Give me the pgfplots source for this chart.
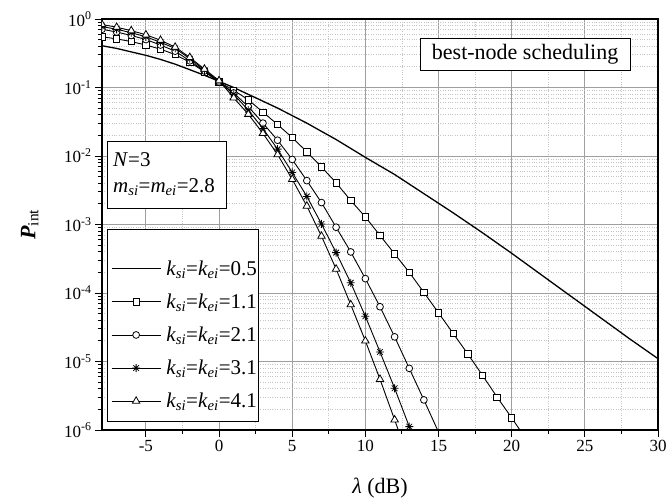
\documentclass[border=0pt]{standalone}
\usepackage{fontspec}
\setmainfont{Liberation Serif}
\usepackage{pgfplots}
\pgfplotsset{compat=1.18}
\usetikzlibrary{plotmarks}

% 8-armed asterisk like the original
\pgfdeclareplotmark{ast8}{%
  \pgfpathmoveto{\pgfqpoint{-\pgfplotmarksize}{0pt}}\pgfpathlineto{\pgfqpoint{\pgfplotmarksize}{0pt}}%
  \pgfpathmoveto{\pgfqpoint{0pt}{-\pgfplotmarksize}}\pgfpathlineto{\pgfqpoint{0pt}{\pgfplotmarksize}}%
  \pgfpathmoveto{\pgfqpoint{-0.707\pgfplotmarksize}{-0.707\pgfplotmarksize}}\pgfpathlineto{\pgfqpoint{0.707\pgfplotmarksize}{0.707\pgfplotmarksize}}%
  \pgfpathmoveto{\pgfqpoint{-0.707\pgfplotmarksize}{0.707\pgfplotmarksize}}\pgfpathlineto{\pgfqpoint{0.707\pgfplotmarksize}{-0.707\pgfplotmarksize}}%
  \pgfusepathqstroke}

\newcommand{\tickfont}{\fontsize{17}{20}\selectfont}
\newcommand{\bigfont}{\fontsize{21}{25}\selectfont}
\newcommand{\kk}[1]{\textit{k}\textsubscript{\textit{si}}=\textit{k}\textsubscript{\textit{ei}}=#1}

\begin{document}
\begin{tikzpicture}
\begin{axis}[
    scale only axis,
    width=556pt, height=411pt,
    ymode=log,
    xmin=-8, xmax=30,
    ymin=1e-6, ymax=1,
    xtick={-5,0,5,10,15,20,25,30},
    xticklabels={-5,0,5,10,15,20,25,30},
    minor x tick num=1,
    ytick={1e-6,1e-5,1e-4,1e-3,1e-2,1e-1,1},
    yticklabels={10\textsuperscript{-6},10\textsuperscript{-5},10\textsuperscript{-4},10\textsuperscript{-3},10\textsuperscript{-2},10\textsuperscript{-1},10\textsuperscript{0}},
    xtick pos=bottom, ytick pos=left,
    tick align=outside,
    major tick length=7pt, minor tick length=4pt,
    tick style={black, line width=0.9pt},
    axis line style={black, line width=1.5pt},
    grid=both,
    major grid style={gray!75, line width=0.8pt},
    minor grid style={gray!45, dotted, line width=0.8pt},
    ticklabel style={font=\tickfont},
    xlabel={\textit{λ} (dB)},
    ylabel={\textbf{\textit{P}}\textsubscript{int}},
    label style={font=\fontsize{22}{26}\selectfont},
    xlabel style={at={(axis description cs:0.5,-0.141)}, anchor=center},
    ylabel style={at={(axis description cs:-0.13,0.5)}, anchor=center},
    clip marker paths=true,
    legend style={at={(0.014,0.043)}, anchor=south west, draw=none, fill=none,
        font=\bigfont, row sep=13pt, column sep=3pt, inner sep=1pt},
    legend cell align=left,
    legend image code/.code={\draw[mark repeat=2,mark phase=2] plot coordinates {(0pt,0pt)(24.5pt,0pt)(49pt,0pt)};},
]
\addplot[black, line width=1.3pt, mark=none] coordinates {
    (-8,0.407) (-7,0.372) (-6,0.331) (-5,0.295) (-4,0.257) (-3,0.219) (-2,0.182) (-1,0.151)
    (0,0.123) (1,0.100) (2,0.0794) (3,0.0631) (4,0.0501) (5,0.0389) (6,0.0302) (7,0.0229)
    (8,0.0174) (9,0.0129) (10,0.00955) (12,0.00537) (14,0.00282) (16,0.00148) (18,7.59e-4)
    (20,3.80e-4) (22,1.86e-4) (24,9.12e-5) (26,4.47e-5) (28,2.19e-5) (30,1.10e-5)
};
\addlegendentry{\kk{0.5}}

\addplot[black, line width=0.9pt, mark=square*, mark size=3.2pt, mark options={fill=white, line width=0.8pt}] coordinates {
    (-8,0.550) (-7,0.513) (-6,0.468) (-5,0.417) (-4,0.363) (-3,0.302) (-2,0.234) (-1,0.170)
    (0,0.120) (1,0.0912) (2,0.0661) (3,0.0437) (4,0.0288) (5,0.0186) (6,0.0115) (7,6.92e-3)
    (8,4.07e-3) (9,2.24e-3) (10,1.29e-3) (11,6.92e-4) (12,3.72e-4) (13,2.00e-4) (14,1.02e-4)
    (15,5.13e-5) (16,2.57e-5) (17,1.29e-5) (18,6.31e-6) (19,3.02e-6) (20,1.51e-6) (21,7.24e-7)
};
\addlegendentry{\kk{1.1}}

\addplot[black, line width=0.9pt, mark=*, mark size=3.4pt, mark options={fill=white, line width=0.8pt}] coordinates {
    (-8,0.708) (-7,0.646) (-6,0.575) (-5,0.501) (-4,0.417) (-3,0.339) (-2,0.245) (-1,0.174)
    (0,0.120) (1,0.0832) (2,0.0525) (3,0.0302) (4,0.0170) (5,8.91e-3) (6,4.37e-3) (7,2.09e-3)
    (8,9.12e-4) (9,3.98e-4) (10,1.62e-4) (11,6.31e-5) (12,2.29e-5) (13,7.94e-6) (14,2.75e-6)
    (15,9.33e-7)
};
\addlegendentry{\kk{2.1}}

\addplot[black, line width=0.9pt, mark=ast8, mark size=4pt, mark options={line width=0.8pt}] coordinates {
    (-8,0.776) (-7,0.708) (-6,0.631) (-5,0.550) (-4,0.457) (-3,0.372) (-2,0.263) (-1,0.180)
    (0,0.123) (1,0.0794) (2,0.0468) (3,0.0251) (4,0.0126) (5,5.75e-3) (6,2.57e-3) (7,1.02e-3)
    (8,3.89e-4) (9,1.41e-4) (10,4.57e-5) (11,1.38e-5) (12,4.07e-6) (13,1.12e-6) (14,2.82e-7)
};
\addlegendentry{\kk{3.1}}

\addplot[black, line width=0.9pt, mark=triangle*, mark size=4.3pt, mark options={fill=white, line width=0.8pt}] coordinates {
    (-8,0.832) (-7,0.759) (-6,0.676) (-5,0.589) (-4,0.490) (-3,0.389) (-2,0.275) (-1,0.186)
    (0,0.126) (1,0.0708) (2,0.0407) (3,0.0214) (4,0.0105) (5,4.57e-3) (6,1.86e-3) (7,6.76e-4)
    (8,2.24e-4) (9,6.76e-5) (10,2.00e-5) (11,5.50e-6) (12,1.41e-6) (13,3.55e-7)
};
\addlegendentry{\kk{4.1}}

% legend frame (white, hides the grid)
\draw[fill=white, line width=0.8pt] (rel axis cs:0.009,0.022) rectangle (rel axis cs:0.282,0.489);
% parameter box
\draw[fill=white, line width=0.8pt] (rel axis cs:0.0103,0.538) rectangle (rel axis cs:0.223,0.703);
\node[anchor=base west, font=\bigfont, inner sep=0pt] at (rel axis cs:0.0198,0.640) {\textit{N}=3};
\node[anchor=base west, font=\bigfont, inner sep=0pt] at (rel axis cs:0.0198,0.577)
    {\textit{m}\textsubscript{\textit{si}}=\textit{m}\textsubscript{\textit{ei}}=2.8};
% scheme box
\node[draw, fill=white, line width=0.8pt, font=\fontsize{22}{26}\selectfont, inner xsep=12pt, inner ysep=6pt]
    at (rel axis cs:0.761,0.914) {best-node scheduling};
\end{axis}
\pgfresetboundingbox
\path ([xshift=-102pt,yshift=-71pt]current axis.south west) rectangle ([xshift=8pt,yshift=19pt]current axis.north east);
\end{tikzpicture}
\end{document}
